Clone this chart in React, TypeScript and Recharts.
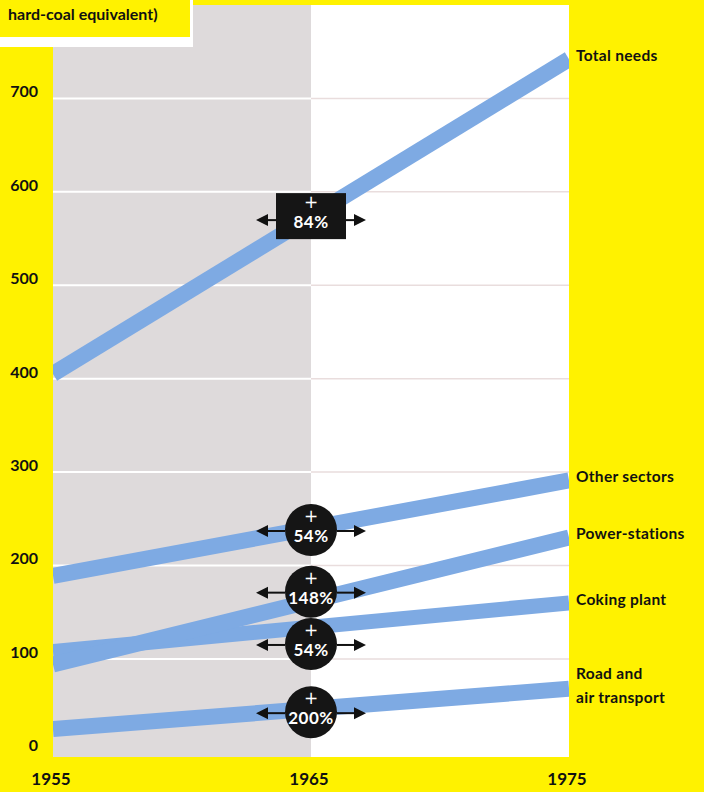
import React from "react";
import {
  LineChart,
  Line,
  XAxis,
  YAxis,
  ReferenceArea,
  ReferenceDot,
  ReferenceLine,
  LabelList,
} from "recharts";

// energy needs, million t hard-coal equivalent
const years = [1955, 1975];
const totalNeeds = [405, 742];
const otherSectors = [189, 291];
const powerStations = [94, 230];
const cokingPlant = [108, 160];
const roadAir = [25, 68];

const xTicks = [1955, 1965, 1975];
const yTicks = [0, 100, 200, 300, 400, 500, 600, 700];
const gridValues = [100, 200, 300, 400, 500, 600, 700];

// growth badges sitting at 1965
const badgeLabels = ["84%", "54%", "148%", "54%", "200%"];
const badgeValues = [574, 238, 172, 116, 43];
const badgeBoxed = [true, false, false, false, false];

const data = years.map((year, i) => ({
  year,
  total: totalNeeds[i],
  other: otherSectors[i],
  power: powerStations[i],
  coking: cokingPlant[i],
  road: roadAir[i],
}));

const BLUE = "#7eaae3";
const YELLOW = "#fff200";
const GREY = "#dedadb";
const FONT = "Lato, 'Open Sans', sans-serif";

const endLabel = (lines: string[]) => (props: any) => {
  const { x, y, index } = props;
  if (index !== years.length - 1) return null;
  const start = y - 4 - ((lines.length - 1) * 24) / 2;
  return (
    <text
      x={x + 7}
      y={start}
      dominantBaseline="central"
      fontFamily={FONT}
      fontWeight={700}
      fontSize={15.5}
      letterSpacing={0.3}
      fill="#111"
    >
      {lines.map((l, i) => (
        <tspan key={i} x={x + 7} y={start + i * 24}>
          {l}
        </tspan>
      ))}
    </text>
  );
};

const Arrows = ({ cx, cy, half }: { cx: number; cy: number; half: number }) => (
  <g fill="#111" stroke="#111">
    <line x1={cx - 44} y1={cy} x2={cx - half} y2={cy} strokeWidth={2} />
    <polygon points={`${cx - 55},${cy} ${cx - 43},${cy - 6} ${cx - 43},${cy + 6}`} stroke="none" />
    <line x1={cx + half} y1={cy} x2={cx + 44} y2={cy} strokeWidth={2} />
    <polygon points={`${cx + 55},${cy} ${cx + 43},${cy - 6} ${cx + 43},${cy + 6}`} stroke="none" />
  </g>
);

const Badge = (props: any) => {
  const { cx, cy, label, boxed } = props;
  if (cx == null || cy == null) return null;
  return (
    <g>
      {boxed ? (
        <>
          <Arrows cx={cx} cy={cy + 4} half={35} />
          <rect x={cx - 35} y={cy - 23} width={70} height={46} fill="#151515" />
        </>
      ) : (
        <>
          <Arrows cx={cx} cy={cy + 1} half={26} />
          <circle cx={cx} cy={cy} r={26} fill="#151515" />
        </>
      )}
      <text
        x={cx}
        y={cy - 8}
        textAnchor="middle"
        fontFamily="'DejaVu Sans', sans-serif"
        fontWeight={400}
        fontSize={17}
        fill="#ffffff"
      >
        +
      </text>
      <text
        x={cx}
        y={cy + 12}
        textAnchor="middle"
        fontFamily={FONT}
        fontWeight={700}
        fontSize={17}
        letterSpacing={0.5}
        fill="#ffffff"
      >
        {label}
      </text>
    </g>
  );
};

const YTick = ({ x, y, payload }: any) => (
  <text
    x={x - 15}
    y={y - 1}
    textAnchor="end"
    fontFamily={FONT}
    fontWeight={700}
    fontSize={16}
    fill="#111"
  >
    {payload.value}
  </text>
);

const XTick = ({ x, y, payload }: any) => (
  <text
    x={x - 2}
    y={y + 28}
    textAnchor="middle"
    fontFamily={FONT}
    fontWeight={700}
    fontSize={17}
    fill="#111"
  >
    {payload.value}
  </text>
);

const App = () => {
  return (
    <div
      style={{
        position: "absolute",
        left: 0,
        top: 0,
        width: 704,
        height: 792,
        background: YELLOW,
        overflow: "hidden",
      }}
    >
      <LineChart
        width={704}
        height={792}
        data={data}
        margin={{ top: 5, right: 135, bottom: 0, left: 0 }}
      >
        <XAxis
          dataKey="year"
          type="number"
          domain={[1955, 1975]}
          ticks={xTicks}
          allowDataOverflow
          axisLine={false}
          tickLine={false}
          tickSize={0}
          tickMargin={0}
          height={35}
          tick={<XTick />}
          interval={0}
        />
        <YAxis
          type="number"
          domain={[-5, 800]}
          ticks={yTicks}
          allowDataOverflow
          axisLine={false}
          tickLine={false}
          tickSize={0}
          tickMargin={0}
          width={53}
          tick={<YTick />}
          interval={0}
        />
        {/* 1955-65 shaded, 1965-75 white */}
        <ReferenceArea x1={1955} x2={1965} y1={-5} y2={800} fill={GREY} fillOpacity={1} stroke="none" />
        <ReferenceArea x1={1965} x2={1975} y1={-5} y2={800} fill="#ffffff" fillOpacity={1} stroke="none" />
        {gridValues.map((v) => (
          <ReferenceLine
            key={`l${v}`}
            segment={[
              { x: 1955, y: v },
              { x: 1965, y: v },
            ]}
            stroke="#ffffff"
            strokeWidth={2}
          />
        ))}
        {gridValues.map((v) => (
          <ReferenceLine
            key={`r${v}`}
            segment={[
              { x: 1965, y: v },
              { x: 1975, y: v },
            ]}
            stroke="#e9dddd"
            strokeWidth={1.5}
          />
        ))}
        <Line type="linear" dataKey="total" stroke={BLUE} strokeWidth={16} dot={false} isAnimationActive={false}>
          <LabelList dataKey="total" content={endLabel(["Total needs"])} />
        </Line>
        <Line type="linear" dataKey="other" stroke={BLUE} strokeWidth={16} dot={false} isAnimationActive={false}>
          <LabelList dataKey="other" content={endLabel(["Other sectors"])} />
        </Line>
        <Line type="linear" dataKey="coking" stroke={BLUE} strokeWidth={15} dot={false} isAnimationActive={false}>
          <LabelList dataKey="coking" content={endLabel(["Coking plant"])} />
        </Line>
        <Line type="linear" dataKey="power" stroke={BLUE} strokeWidth={16} dot={false} isAnimationActive={false}>
          <LabelList dataKey="power" content={endLabel(["Power-stations"])} />
        </Line>
        <Line type="linear" dataKey="road" stroke={BLUE} strokeWidth={16} dot={false} isAnimationActive={false}>
          <LabelList dataKey="road" content={endLabel(["Road and", "air transport"])} />
        </Line>
        {badgeValues.map((v, i) => (
          <ReferenceDot
            key={i}
            x={1965}
            y={v}
            r={26}
            shape={(p: any) => <Badge {...p} label={badgeLabels[i]} boxed={badgeBoxed[i]} />}
          />
        ))}
      </LineChart>
      {/* clipped title box, top left */}
      <div
        style={{
          position: "absolute",
          left: 0,
          top: 0,
          width: 193,
          height: 47,
          background: "#ffffff",
        }}
      />
      <div
        style={{
          position: "absolute",
          left: 0,
          top: 0,
          width: 190,
          height: 37,
          background: YELLOW,
          fontFamily: FONT,
          fontWeight: 700,
          fontSize: 16,
          color: "#111",
          lineHeight: "16px",
          paddingTop: 6,
          paddingLeft: 8,
          boxSizing: "border-box",
        }}
      >
        hard-coal equivalent)
      </div>
    </div>
  );
};

export default App;
